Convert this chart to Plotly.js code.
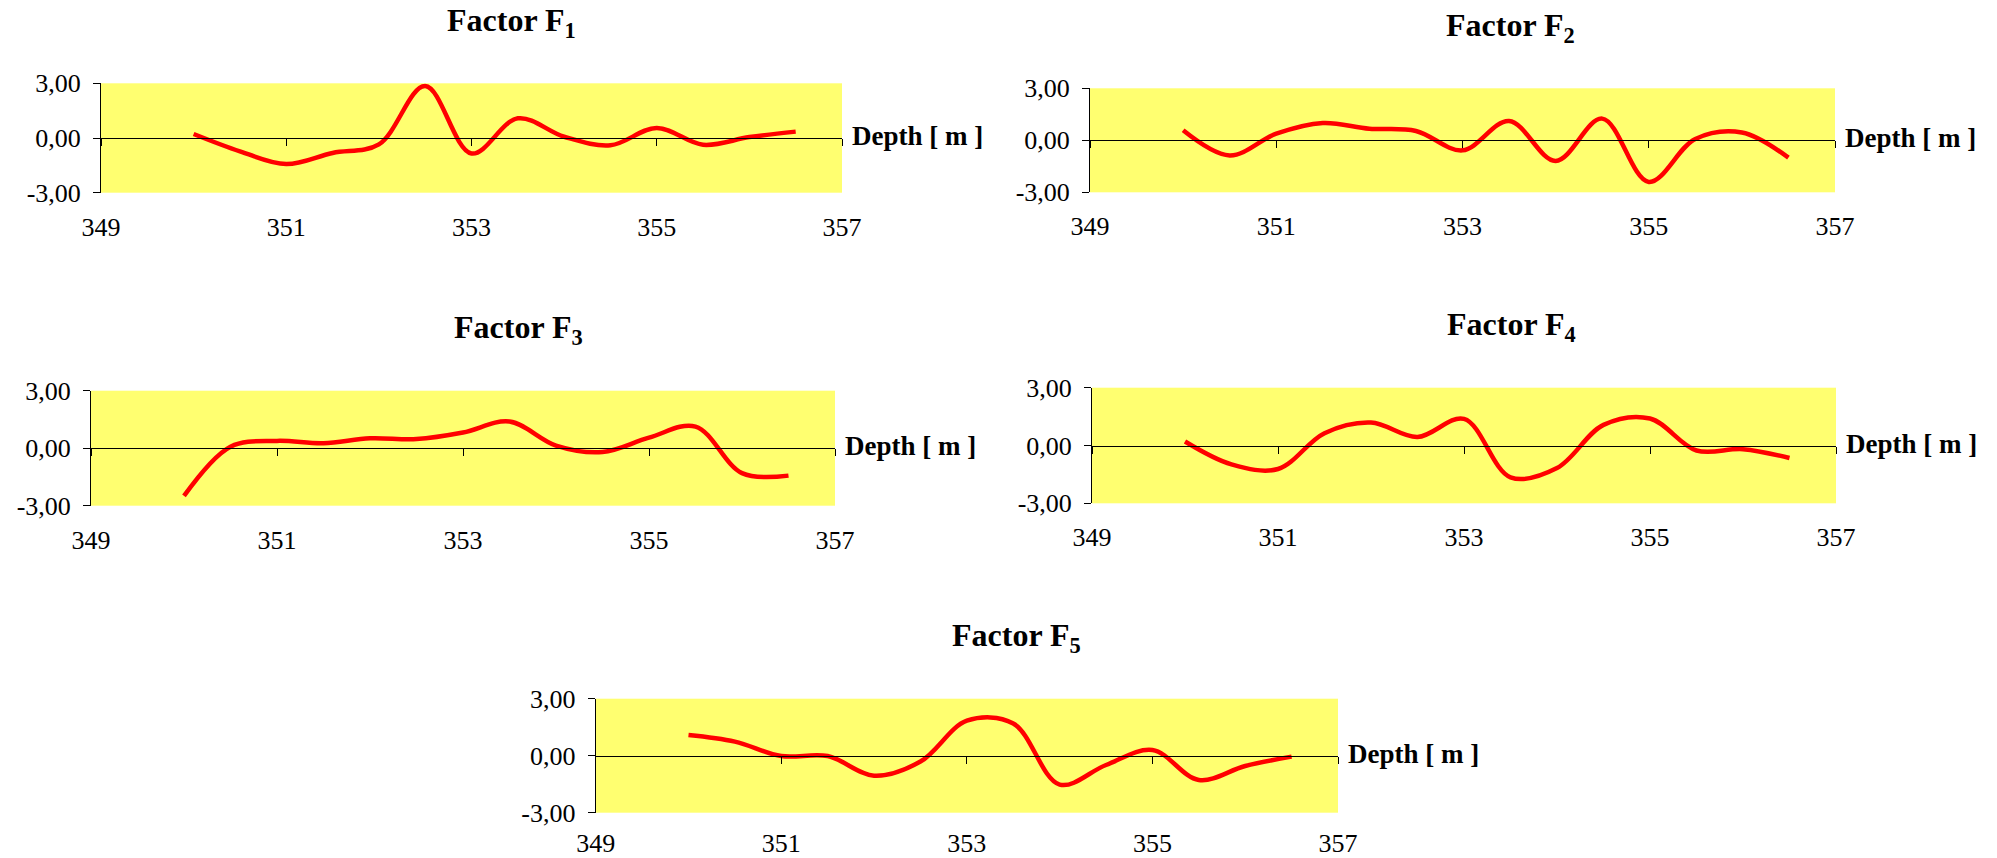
<!DOCTYPE html>
<html>
<head>
<meta charset="utf-8">
<script src="https://cdn.plot.ly/plotly-3.0.1.min.js"></script>
<style>html,body{margin:0;padding:0;background:#fff;}#chart{width:1997px;height:858px;}</style>
</head>
<body>
<div id="chart"></div>
<script>
// ---- data ----
var depth = [350, 350.5, 351, 351.5, 352, 352.5, 353, 353.5, 354, 354.5, 355, 355.5, 356, 356.5];
var f1 = [0.22, -0.73, -1.43, -0.82, -0.35, 2.85, -0.85, 1.08, 0.07, -0.40, 0.55, -0.37, 0.05, 0.35];
var f2 = [0.58, -0.87, 0.38, 1.00, 0.67, 0.54, -0.58, 1.11, -1.19, 1.25, -2.40, 0.08, 0.45, -1.00];
var f3 = [-2.49, 0.08, 0.38, 0.26, 0.52, 0.48, 0.82, 1.39, 0.14, -0.20, 0.55, 1.13, -1.30, -1.43];
var f4 = [0.21, -0.98, -1.22, 0.64, 1.19, 0.44, 1.38, -1.65, -1.17, 1.07, 1.40, -0.26, -0.19, -0.65];
var f5 = [1.09, 0.74, -0.02, -0.02, -1.05, -0.31, 1.84, 1.70, -1.52, -0.49, 0.30, -1.28, -0.54, -0.05];
var seriesNames = ['Factor F<sub>1</sub>', 'Factor F<sub>2</sub>', 'Factor F<sub>3</sub>', 'Factor F<sub>4</sub>', 'Factor F<sub>5</sub>'];
var xTickVals = [349, 351, 353, 355, 357];
var xTickText = ['349', '351', '353', '355', '357'];
var yTickVals = [-3, 0, 3];
var yTickText = ['-3,00', '0,00', '3,00'];
var axisLabel = 'Depth [ m ]';

// ---- layout geometry (pixels) ----
var W = 1997, H = 858;
var panels = [
  {l: 101, r: 842, t: 83.3, b: 192.7, lab: 87, tc: 512},
  {l: 1090, r: 1835, t: 88.3, b: 192.3, lab: 83, tc: 1510},
  {l: 91, r: 835, t: 390.7, b: 505.7, lab: 90, tc: 518},
  {l: 1092, r: 1836, t: 387.7, b: 503.3, lab: 89, tc: 1511},
  {l: 595.7, r: 1338, t: 698.7, b: 812.7, lab: 85, tc: 1016}
];
var allSeries = [f1, f2, f3, f4, f5];
var FONT = 'Liberation Serif, Times New Roman, serif';

var traces = [];
var layout = {
  width: W, height: H,
  margin: {l: 0, r: 0, t: 0, b: 0},
  paper_bgcolor: '#ffffff',
  plot_bgcolor: '#FFFF70',
  showlegend: false,
  font: {family: FONT, color: '#000', size: 26},
  annotations: []
};

panels.forEach(function (p, i) {
  var sfx = i === 0 ? '' : String(i + 1);
  traces.push({
    x: depth, y: allSeries[i],
    xaxis: 'x' + sfx, yaxis: 'y' + sfx,
    type: 'scatter', mode: 'lines',
    line: {color: '#FF0000', width: 4.5, shape: 'spline', smoothing: 1},
    hoverinfo: 'skip'
  });
  var yd = [1 - p.b / H, 1 - p.t / H];
  var zeroFrac = (yd[0] + yd[1]) / 2;
  layout['xaxis' + sfx] = {
    domain: [p.l / W, p.r / W],
    range: [349, 357],
    anchor: 'free', position: zeroFrac,
    showgrid: false, zeroline: false,
    showline: true, linecolor: '#000', linewidth: 1,
    ticks: 'outside', ticklen: 7, tickcolor: '#000', tickwidth: 1,
    tickmode: 'array', tickvals: xTickVals, ticktext: xTickText,
    ticklabelstandoff: p.lab - 7 - 21,
    tickfont: {family: FONT, size: 26, color: '#000'},
    fixedrange: true
  };
  layout['yaxis' + sfx] = {
    domain: yd,
    range: [-3, 3],
    anchor: 'x' + sfx,
    showgrid: false, zeroline: false,
    showline: true, linecolor: '#000', linewidth: 1,
    ticks: 'outside', ticklen: 7, tickcolor: '#000', tickwidth: 1,
    tickmode: 'array', tickvals: yTickVals, ticktext: yTickText,
    ticklabelstandoff: 7,
    tickfont: {family: FONT, size: 26, color: '#000'},
    fixedrange: true
  };
  layout.annotations.push({
    text: '<b>' + axisLabel + '</b>',
    xref: 'x' + sfx, yref: 'y' + sfx, x: 357, y: 0,
    xanchor: 'left', yanchor: 'middle', xshift: 8, yshift: 2,
    showarrow: false,
    font: {family: FONT, size: 27, color: '#000'}
  });
  layout.annotations.push({
    text: '<b>' + seriesNames[i] + '</b>',
    xref: 'paper', yref: 'paper',
    x: p.tc / W, y: 1 - (p.t - 61) / H,
    xanchor: 'center', yanchor: 'middle',
    showarrow: false,
    font: {family: FONT, size: 32, color: '#000'}
  });
});

Plotly.newPlot('chart', traces, layout, {displayModeBar: false, staticPlot: true});
</script>
</body>
</html>
